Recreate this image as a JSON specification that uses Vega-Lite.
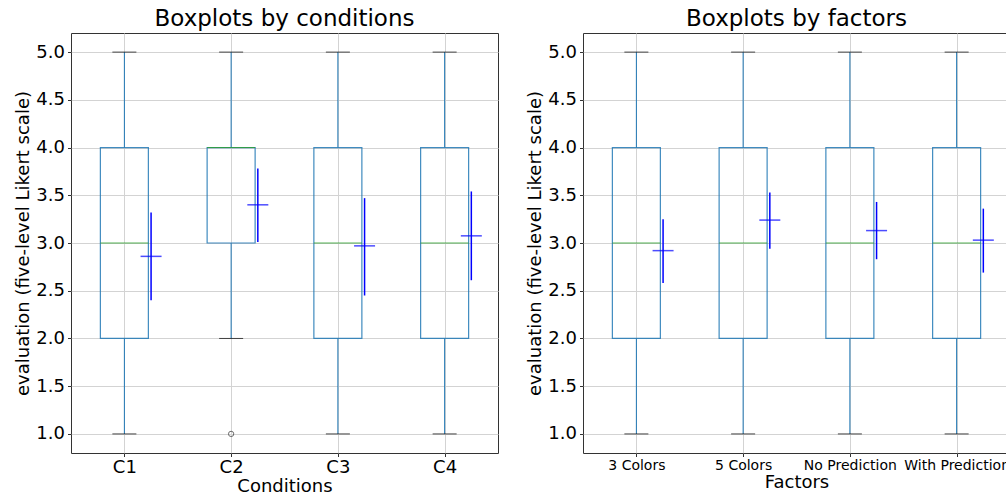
{
  "$schema": "https://vega.github.io/schema/vega-lite/v6.json",
  "padding": {"left": 14, "top": 7, "right": 0, "bottom": 4},
  "background": "white",
  "bounds": "flush",
  "spacing": 85,
  "datasets": {
    "cond": [
      {"name": "C1", "lo": 1, "q1": 2, "med": 3, "q3": 4, "hi": 5, "mean": 2.86, "elo": 2.40, "ehi": 3.32},
      {"name": "C2", "lo": 2, "q1": 3, "med": 4, "q3": 4, "hi": 5, "mean": 3.40, "elo": 3.01, "ehi": 3.78},
      {"name": "C3", "lo": 1, "q1": 2, "med": 3, "q3": 4, "hi": 5, "mean": 2.97, "elo": 2.45, "ehi": 3.47},
      {"name": "C4", "lo": 1, "q1": 2, "med": 3, "q3": 4, "hi": 5, "mean": 3.075, "elo": 2.61, "ehi": 3.54}
    ],
    "condOut": [
      {"name": "C2", "value": 1}
    ],
    "fact": [
      {"name": "3 Colors", "lo": 1, "q1": 2, "med": 3, "q3": 4, "hi": 5, "mean": 2.92, "elo": 2.58, "ehi": 3.25},
      {"name": "5 Colors", "lo": 1, "q1": 2, "med": 3, "q3": 4, "hi": 5, "mean": 3.24, "elo": 2.94, "ehi": 3.53},
      {"name": "No Prediction", "lo": 1, "q1": 2, "med": 3, "q3": 4, "hi": 5, "mean": 3.13, "elo": 2.83, "ehi": 3.43},
      {"name": "With Prediction", "lo": 1, "q1": 2, "med": 3, "q3": 4, "hi": 5, "mean": 3.03, "elo": 2.69, "ehi": 3.36}
    ]
  },
  "config": {
    "font": "DejaVu Sans",
    "view": {"stroke": "#333333", "strokeWidth": 1},
    "axis": {
      "grid": true,
      "gridColor": "#d3d3d3",
      "gridWidth": 1,
      "domain": false,
      "tickColor": "#333333",
      "tickSize": 3.5,
      "labelColor": "#000000",
      "titleColor": "#000000",
      "labelFont": "DejaVu Sans",
      "titleFont": "DejaVu Sans",
      "titleFontWeight": "normal",
      "labelFontSize": 18,
      "titleFontSize": 18
    },
    "title": {"fontSize": 23, "fontWeight": "normal", "font": "DejaVu Sans", "color": "#000000", "offset": 2}
  },
  "hconcat": [
    {
      "width": 427,
      "height": 420,
      "title": "Boxplots by conditions",
      "data": {"name": "cond"},
      "encoding": {
        "x": {"field": "name", "type": "nominal", "sort": null,
          "scale": {"type": "point", "padding": 0.5},
          "axis": {"title": "Conditions", "labelAngle": 0, "labelPadding": 2, "titlePadding": 1, "labelOverlap": false}}
      },
      "layer": [
        {
          "mark": {"type": "rule", "color": "#1f77b4", "strokeWidth": 1},
          "encoding": {
            "y": {"field": "lo", "type": "quantitative",
              "scale": {"domain": [0.8, 5.2], "nice": false, "zero": false},
              "axis": {"title": "evaluation (five-level Likert scale)", "values": [1, 1.5, 2, 2.5, 3, 3.5, 4, 4.5, 5], "format": ".1f", "labelPadding": 3, "titlePadding": 3}},
            "y2": {"field": "q1"}
          }
        },
        {
          "mark": {"type": "rule", "color": "#1f77b4", "strokeWidth": 1},
          "encoding": {"y": {"field": "q3", "type": "quantitative"}, "y2": {"field": "hi"}}
        },
        {
          "mark": {"type": "bar", "width": 48, "fillOpacity": 0, "fill": "white", "stroke": "#1f77b4", "strokeWidth": 1.2, "strokeOpacity": 0.85},
          "encoding": {"y": {"field": "q1", "type": "quantitative"}, "y2": {"field": "q3"}}
        },
        {
          "mark": {"type": "tick", "size": 24, "thickness": 1, "color": "#000000"},
          "encoding": {"y": {"field": "lo", "type": "quantitative"}}
        },
        {
          "mark": {"type": "tick", "size": 24, "thickness": 1, "color": "#000000"},
          "encoding": {"y": {"field": "hi", "type": "quantitative"}}
        },
        {
          "mark": {"type": "tick", "size": 48, "thickness": 1, "color": "#2ca02c", "opacity": 0.8},
          "encoding": {"y": {"field": "med", "type": "quantitative"}}
        },
        {
          "mark": {"type": "rule", "color": "#0000ff", "strokeWidth": 1.5, "xOffset": 26.7},
          "encoding": {"y": {"field": "elo", "type": "quantitative"}, "y2": {"field": "ehi"}}
        },
        {
          "mark": {"type": "tick", "size": 21, "thickness": 1.5, "color": "#0000ff", "xOffset": 26.7},
          "encoding": {"y": {"field": "mean", "type": "quantitative"}}
        },
        {
          "data": {"name": "condOut"},
          "mark": {"type": "point", "shape": "circle", "filled": false, "size": 28, "stroke": "#333333", "strokeWidth": 1},
          "encoding": {"y": {"field": "value", "type": "quantitative"}}
        }
      ]
    },
    {
      "width": 427,
      "height": 420,
      "title": "Boxplots by factors",
      "data": {"name": "fact"},
      "encoding": {
        "x": {"field": "name", "type": "nominal", "sort": null,
          "scale": {"type": "point", "padding": 0.5},
          "axis": {"title": "Factors", "labelAngle": 0, "labelFontSize": 14, "labelPadding": 2, "titlePadding": 1, "labelOverlap": false}}
      },
      "layer": [
        {
          "mark": {"type": "rule", "color": "#1f77b4", "strokeWidth": 1},
          "encoding": {
            "y": {"field": "lo", "type": "quantitative",
              "scale": {"domain": [0.8, 5.2], "nice": false, "zero": false},
              "axis": {"title": "evaluation (five-level Likert scale)", "values": [1, 1.5, 2, 2.5, 3, 3.5, 4, 4.5, 5], "format": ".1f", "labelPadding": 3, "titlePadding": 3}},
            "y2": {"field": "q1"}
          }
        },
        {
          "mark": {"type": "rule", "color": "#1f77b4", "strokeWidth": 1},
          "encoding": {"y": {"field": "q3", "type": "quantitative"}, "y2": {"field": "hi"}}
        },
        {
          "mark": {"type": "bar", "width": 48, "fillOpacity": 0, "fill": "white", "stroke": "#1f77b4", "strokeWidth": 1.2, "strokeOpacity": 0.85},
          "encoding": {"y": {"field": "q1", "type": "quantitative"}, "y2": {"field": "q3"}}
        },
        {
          "mark": {"type": "tick", "size": 24, "thickness": 1, "color": "#000000"},
          "encoding": {"y": {"field": "lo", "type": "quantitative"}}
        },
        {
          "mark": {"type": "tick", "size": 24, "thickness": 1, "color": "#000000"},
          "encoding": {"y": {"field": "hi", "type": "quantitative"}}
        },
        {
          "mark": {"type": "tick", "size": 48, "thickness": 1, "color": "#2ca02c", "opacity": 0.8},
          "encoding": {"y": {"field": "med", "type": "quantitative"}}
        },
        {
          "mark": {"type": "rule", "color": "#0000ff", "strokeWidth": 1.5, "xOffset": 26.7},
          "encoding": {"y": {"field": "elo", "type": "quantitative"}, "y2": {"field": "ehi"}}
        },
        {
          "mark": {"type": "tick", "size": 21, "thickness": 1.5, "color": "#0000ff", "xOffset": 26.7},
          "encoding": {"y": {"field": "mean", "type": "quantitative"}}
        }
      ]
    }
  ]
}
